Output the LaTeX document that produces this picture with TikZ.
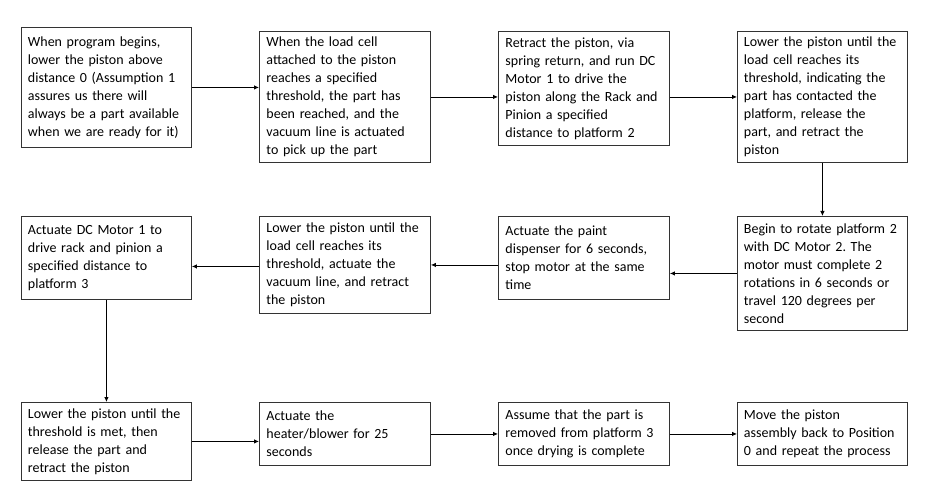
\documentclass[tikz,border=0pt]{standalone}
\usepackage{fontspec}
\setmainfont{Carlito}
\usetikzlibrary{arrows.meta}
\newcommand\nohyphs{\hyphenpenalty=10000 \exhyphenpenalty=10000 \frenchspacing\relax}
\begin{document}
\begin{tikzpicture}[x=1bp,y=-1bp,
  stepbox/.style={draw=black!80, line width=0.9bp, anchor=north west,
    text width=157bp, inner xsep=6.5bp, inner ysep=0bp, align=left,
    font=\fontsize{14bp}{18bp}\selectfont\nohyphs, text=black},
  conn/.style={draw=black, line width=0.8bp, -{Latex[length=5bp,width=4.5bp]}}]
\useasboundingbox[fill=white] (0,0) rectangle (936,494);
\node[stepbox, minimum width=170bp, minimum height=120bp] (b1) at (21,27)
  {When program begins,\\lower the piston above\\distance 0 (Assumption 1\\assures us there will\\always be a part available\\when we are ready for it)};
\node[stepbox, minimum width=171bp, minimum height=131bp] (b2) at (259,31)
  {When the load cell\\attached to the piston\\reaches a specified\\threshold, the part has\\been reached, and the\\vacuum line is actuated\\to pick up the part};
\node[stepbox, minimum width=171bp, minimum height=114bp] (b3) at (498,31)
  {Retract the piston, via\\spring return, and run DC\\Motor 1 to drive the\\piston along the Rack and\\Pinion a specified\\distance to platform 2};
\node[stepbox, minimum width=170bp, minimum height=131bp] (b4) at (737,31)
  {Lower the piston until the\\load cell reaches its\\threshold, indicating the\\part has contacted the\\platform, release the\\part, and retract the\\piston};
\node[stepbox, minimum width=170bp, minimum height=114bp] (b5) at (737,216)
  {Begin to rotate platform 2\\with DC Motor 2. The\\motor must complete 2\\rotations in 6 seconds or\\travel 120 degrees per\\second};
\node[stepbox, minimum width=171bp, minimum height=83bp] (b6) at (498,216)
  {Actuate the paint\\dispenser for 6 seconds,\\stop motor at the same\\time};
\node[stepbox, minimum width=171bp, minimum height=97bp] (b7) at (259,216)
  {Lower the piston until the\\load cell reaches its\\threshold, actuate the\\vacuum line, and retract\\the piston};
\node[stepbox, minimum width=170bp, minimum height=83bp] (b8) at (21,216)
  {Actuate DC Motor 1 to\\drive rack and pinion a\\specified distance to\\platform 3};
\node[stepbox, minimum width=170bp, minimum height=78bp] (b9) at (21,402)
  {Lower the piston until the\\threshold is met, then\\release the part and\\retract the piston};
\node[stepbox, minimum width=171bp, minimum height=63bp] (b10) at (259,402)
  {Actuate the\\heater/blower for 25\\seconds};
\node[stepbox, minimum width=171bp, minimum height=63bp] (b11) at (498,402)
  {Assume that the part is\\removed from platform 3\\once drying is complete};
\node[stepbox, minimum width=170bp, minimum height=63bp] (b12) at (737,402)
  {Move the piston\\assembly back to Position\\0 and repeat the process};
\draw[conn] (b1.east) -- (b1.east -| b2.west);
\draw[conn] (b2.east) -- (b2.east -| b3.west);
\draw[conn] (b4.west -| b3.east) -- (b4.west);
\draw[conn] (b4.south) -- (b5.north);
\draw[conn] (b5.west) -- (b5.west -| b6.east);
\draw[conn] (b7.east -| b6.west) -- (b7.east);
\draw[conn] ([yshift=-1.5bp]b7.west) -- ([yshift=-1.5bp]b7.west -| b8.east);
\draw[conn] (b8.south) -- (b9.north);
\draw[conn] (b9.east) -- (b9.east -| b10.west);
\draw[conn] (b10.east) -- (b11.west);
\draw[conn] (b11.east) -- (b12.west);
\end{tikzpicture}
\end{document}
